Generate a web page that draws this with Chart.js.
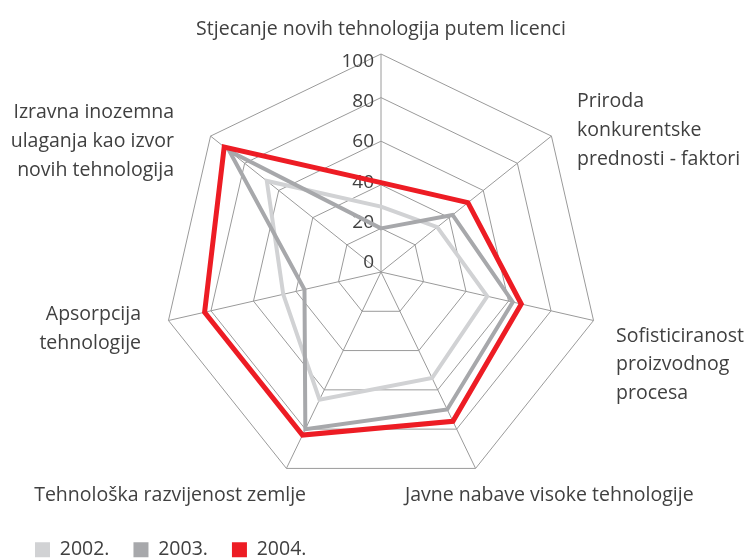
<!DOCTYPE html>
<html>
<head>
<meta charset="utf-8">
<script src="https://cdn.jsdelivr.net/npm/chart.js@4/dist/chart.umd.min.js"></script>
<style>
  html, body { margin: 0; padding: 0; background: #fff; }
  #wrap { width: 744px; height: 558px; }
</style>
</head>
<body>
<div id="wrap"><canvas id="chart"></canvas></div>
<script>
// categories (spokes, clockwise from the top)
const categories = [
  "Stjecanje novih tehnologija putem licenci",
  ["Priroda", "konkurentske", "prednosti - faktori"],
  ["Sofisticiranost", "proizvodnog", "procesa"],
  "Javne nabave visoke tehnologije",
  "Tehnološka razvijenost zemlje",
  ["Apsorpcija", "tehnologije"],
  ["Izravna inozemna", "ulaganja kao izvor", "novih tehnologija"]
];
const seriesNames = ["2002.", "2003.", "2004."];
const values2002 = [30, 33, 50, 54, 65, 46, 67];
const values2003 = [20, 42, 62, 70, 80, 36, 89];
const values2004 = [41, 51, 66, 76, 83, 83, 92];
const tickValues = [0, 20, 40, 60, 80, 100];

const FONT = "'Open Sans', sans-serif";
const TEXT = "#404040";

// where the spoke captions sit (Excel puts them a bit off the spoke ends)
const labelPlacement = [
  { x: 381, y: 35, align: "center", step: 29 },
  { x: 577, y: 107, align: "left", step: 29 },
  { x: 616, y: 341.5, align: "left", step: 28.5 },
  { x: 405, y: 500.5, align: "left", step: 29 },
  { x: 306, y: 500.5, align: "right", step: 29 },
  { x: 141, y: 320, align: "right", step: 28.5 },
  { x: 174, y: 117.5, align: "right", step: 29 }
];

const radarText = {
  id: "radarText",
  beforeDatasetsDraw(chart) {
    const ctx = chart.ctx;
    const scale = chart.scales.r;
    ctx.save();
    ctx.font = "19px " + FONT;
    ctx.fillStyle = TEXT;
    ctx.textAlign = "right";
    ctx.textBaseline = "alphabetic";
    // Excel spaces the tick text a little tighter than the rings
    tickValues.forEach((v) => {
      const d = scale.getDistanceFromCenterForValue(v);
      ctx.fillText(String(v), scale.xCenter - 7, scale.yCenter - 4 - d * 0.922);
    });
    ctx.restore();
  },
  afterDraw(chart) {
    const ctx = chart.ctx;
    ctx.save();
    ctx.font = "19.5px " + FONT;
    ctx.fillStyle = TEXT;
    ctx.textBaseline = "alphabetic";
    chart.data.labels.forEach((label, i) => {
      const p = labelPlacement[i];
      const lines = Array.isArray(label) ? label : [label];
      ctx.textAlign = p.align;
      lines.forEach((line, k) => ctx.fillText(line, p.x, p.y + k * p.step));
    });
    ctx.restore();
  }
};

function series(label, data, color, width, order) {
  return {
    label: label,
    data: data,
    borderColor: color,
    backgroundColor: color,
    borderWidth: width,
    pointRadius: 0,
    pointHoverRadius: 0,
    fill: false,
    tension: 0,
    order: order,
    clip: false
  };
}

new Chart(document.getElementById("chart"), {
  type: "radar",
  data: {
    labels: categories,
    datasets: [
      series(seriesNames[0], values2002, "#d1d2d4", 4, 2),
      series(seriesNames[1], values2003, "#a7a8ab", 4, 1),
      series(seriesNames[2], values2004, "#ed1c24", 5, 0)
    ]
  },
  options: {
    responsive: true,
    maintainAspectRatio: false,
    animation: false,
    layout: { padding: { left: 11, right: 0, top: 0, bottom: -11.5 } },
    plugins: {
      tooltip: { enabled: false },
      legend: {
        position: "bottom",
        align: "start",
        labels: {
          boxWidth: 15,
          boxHeight: 15,
          padding: 24,
          color: TEXT,
          font: { family: FONT, size: 19.5 },
          sort: (a, b) => a.datasetIndex - b.datasetIndex,
          generateLabels: (chart) =>
            Chart.defaults.plugins.legend.labels.generateLabels(chart)
              .map((item) => ({ ...item, lineWidth: 0 }))
        }
      }
    },
    scales: {
      r: {
        min: 0,
        max: 100,
        ticks: { stepSize: 20, display: false },
        grid: { color: "#9a9a9a", lineWidth: 1 },
        angleLines: { color: "#9a9a9a", lineWidth: 1 },
        pointLabels: { display: false },
        afterFit: (scale) => {
          scale.xCenter = 381;
          scale.yCenter = 272;
          scale.drawingArea = 218;
        }
      }
    }
  },
  plugins: [radarText]
});
</script>
</body>
</html>
